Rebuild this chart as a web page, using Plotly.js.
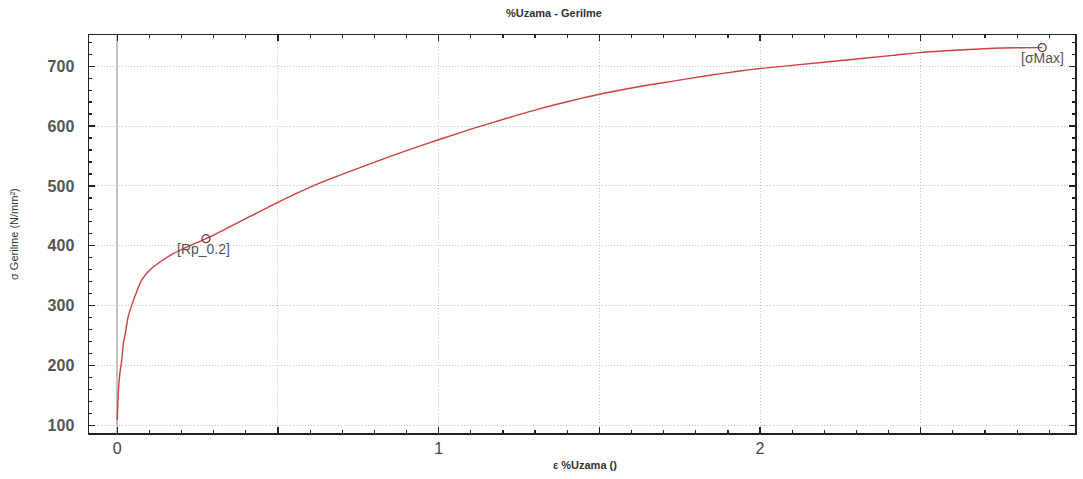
<!DOCTYPE html>
<html>
<head>
<meta charset="utf-8">
<script src="https://cdn.plot.ly/plotly-3.0.1.min.js"></script>
<style>
  html, body { margin: 0; padding: 0; background: #fff; }
  #chart { width: 1083px; height: 479px; }
</style>
</head>
<body>
<div id="chart"></div>
<script>
// Tensile test: strain (%) vs stress (N/mm²)
const strain = [0, 0.003, 0.008, 0.014, 0.019, 0.024, 0.034, 0.045, 0.060, 0.076, 0.102, 0.133, 0.174, 0.216, 0.276, 0.340, 0.413, 0.501, 0.631, 0.797, 0.900, 1.004, 1.108, 1.212, 1.316, 1.419, 1.500, 1.626, 1.730, 1.834, 1.937, 2.000, 2.207, 2.414, 2.503, 2.623, 2.726, 2.878];
const stress = [109, 154, 187, 209, 237, 251, 282, 301, 323, 343, 360, 373, 387, 398, 412, 429, 449, 473, 505, 539, 559, 578, 596, 613, 629, 643, 653, 666, 675, 684, 692, 696, 707, 718, 723, 727, 730, 731];

// Marked points: proof stress and maximum stress
const pointNames = ['[Rp_0.2]', '[σMax]'];
const pointStrain = [0.276, 2.878];
const pointStress = [412, 731];

// Axis tick labels and titles
const xTickVals = [0, 0.5, 1, 1.5, 2, 2.5];
const xTickText = ['0', '', '1', '', '2', ''];
const yTickVals = [100, 200, 300, 400, 500, 600, 700];
const xTitle = 'ε %Uzama ()';
const yTitle = 'σ Gerilme (N/mm²)';

const FONT = 'Liberation Sans, Arial, sans-serif';

const curve = {
  x: strain, y: stress,
  type: 'scatter', mode: 'lines',
  line: { color: 'rgb(206,64,64)', width: 1.4, shape: 'spline', smoothing: 0.6 },
  hoverinfo: 'x+y', showlegend: false
};

const marks = {
  x: pointStrain, y: pointStress,
  type: 'scatter', mode: 'markers',
  marker: { symbol: 'circle-open', size: 8, color: '#7a3434', line: { width: 1.2 } },
  showlegend: false
};

const annotations = pointNames.map((name, i) => ({
  x: pointStrain[i], y: pointStress[i], xref: 'x', yref: 'y',
  text: name, showarrow: false,
  xshift: i === 0 ? -2 : 0, yshift: -10,
  font: { family: FONT, size: 14, color: '#555' }
}));

// Axis titles placed as paper annotations for exact spacing
annotations.push({
  xref: 'paper', yref: 'paper', x: 0.5035, y: 0, yshift: -31.5,
  xanchor: 'center', yanchor: 'middle', showarrow: false,
  text: xTitle, font: { family: FONT, size: 11, color: '#333', weight: 'bold' }
});
annotations.push({
  xref: 'paper', yref: 'paper', x: 0, y: 0.5, xshift: -75,
  xanchor: 'center', yanchor: 'middle', showarrow: false, textangle: -90,
  text: yTitle, font: { family: FONT, size: 11, color: '#333' }
});

const layout = {
  width: 1083, height: 479,
  margin: { l: 89, r: 8, t: 35, b: 46 },
  paper_bgcolor: '#fff', plot_bgcolor: '#fff',
  title: {
    text: '%Uzama - Gerilme',
    font: { family: FONT, size: 11, color: '#333', weight: 'bold' },
    xref: 'container', x: 0.5115, xanchor: 'center',
    yref: 'container', y: 0.9735, yanchor: 'middle'
  },
  xaxis: {
    range: [-0.088, 2.98],
    tickmode: 'array', tickvals: xTickVals, ticktext: xTickText,
    ticks: 'inside', ticklen: 6, tickwidth: 1.2, tickcolor: '#222',
    minor: { dtick: 0.1, ticks: 'inside', ticklen: 3, tickwidth: 1.2, tickcolor: '#222', showgrid: false },
    showline: true, linecolor: '#222', linewidth: 1.5, mirror: 'allticks',
    showgrid: true, gridcolor: '#c4c4c4', griddash: '1px,2px', gridwidth: 1,
    zeroline: true, zerolinecolor: '#c4c4c4', zerolinewidth: 2,
    tickfont: { family: FONT, size: 16, color: '#444' },
    ticklabelstandoff: 0
  },
  yaxis: {
    range: [87.5, 752],
    tickmode: 'array', tickvals: yTickVals,
    ticks: 'inside', ticklen: 6, tickwidth: 1.2, tickcolor: '#222',
    minor: { dtick: 20, ticks: 'inside', ticklen: 3, tickwidth: 1.2, tickcolor: '#222', showgrid: false },
    showline: true, linecolor: '#222', linewidth: 1.5, mirror: 'allticks',
    showgrid: true, gridcolor: '#c4c4c4', griddash: '1px,2px', gridwidth: 1,
    zeroline: false,
    tickfont: { family: FONT, size: 16, color: '#555', weight: 'bold' },
    ticklabelstandoff: 10
  },
  annotations: annotations
};

Plotly.newPlot('chart', [curve, marks], layout, { displayModeBar: false, staticPlot: true });
</script>
</body>
</html>
